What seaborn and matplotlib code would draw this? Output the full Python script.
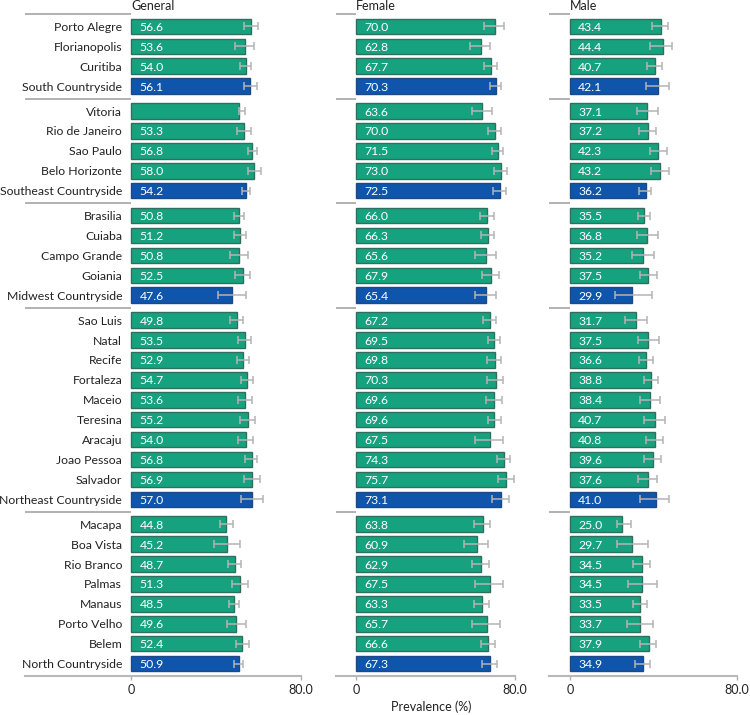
import numpy as np
import pandas as pd
import matplotlib
matplotlib.use("Agg")
import matplotlib.pyplot as plt
import seaborn as sns

# ---------------- data ----------------
cities = ["Porto Alegre", "Florianopolis", "Curitiba", "South Countryside",
          "Vitoria", "Rio de Janeiro", "Sao Paulo", "Belo Horizonte", "Southeast Countryside",
          "Brasilia", "Cuiaba", "Campo Grande", "Goiania", "Midwest Countryside",
          "Sao Luis", "Natal", "Recife", "Fortaleza", "Maceio", "Teresina", "Aracaju",
          "Joao Pessoa", "Salvador", "Northeast Countryside",
          "Macapa", "Boa Vista", "Rio Branco", "Palmas", "Manaus", "Porto Velho", "Belem",
          "North Countryside"]
regions = (["South"] * 4 + ["Southeast"] * 5 + ["Midwest"] * 5 +
           ["Northeast"] * 10 + ["North"] * 8)

general = [56.6, 53.6, 54.0, 56.1, 50.9, 53.3, 56.8, 58.0, 54.2,
           50.8, 51.2, 50.8, 52.5, 47.6,
           49.8, 53.5, 52.9, 54.7, 53.6, 55.2, 54.0, 56.8, 56.9, 57.0,
           44.8, 45.2, 48.7, 51.3, 48.5, 49.6, 52.4, 50.9]
general_lo = [53.2, 49.0, 51.5, 53.0, 50.9, 49.9, 54.9, 55.0, 52.2,
              48.6, 48.4, 46.6, 48.9, 41.0,
              46.7, 50.2, 49.9, 51.9, 50.2, 51.4, 50.1, 53.8, 53.3, 51.7,
              41.8, 39.2, 45.6, 47.5, 46.1, 45.2, 49.3, 48.4]
general_hi = [59.6, 57.7, 56.4, 59.2, 53.8, 56.4, 59.3, 61.0, 56.1,
              53.0, 54.2, 55.0, 56.0, 53.9,
              52.9, 56.6, 55.7, 57.5, 56.9, 58.5, 57.6, 59.5, 60.5, 61.9,
              47.8, 51.3, 51.7, 55.1, 50.9, 54.2, 55.4, 52.9]
general_hidden_labels = ["Vitoria"]

female = [70.0, 62.8, 67.7, 70.3, 63.6, 70.0, 71.5, 73.0, 72.5,
          66.0, 66.3, 65.6, 67.9, 65.4,
          67.2, 69.5, 69.8, 70.3, 69.6, 69.6, 67.5, 74.3, 75.7, 73.1,
          63.8, 60.9, 62.9, 67.5, 63.3, 65.7, 66.6, 67.3]
female_lo = [64.6, 57.6, 64.2, 67.3, 58.2, 66.5, 68.3, 69.6, 69.0,
             62.2, 63.0, 59.7, 63.2, 59.7,
             63.7, 66.2, 66.0, 66.1, 65.2, 66.3, 59.8, 71.0, 71.3, 68.6,
             59.6, 54.4, 58.2, 59.8, 59.5, 58.2, 62.9, 63.5]
female_hi = [74.4, 67.5, 70.9, 73.0, 68.6, 73.2, 74.0, 76.2, 75.7,
             69.4, 69.3, 70.6, 72.1, 70.6,
             70.2, 72.5, 73.2, 74.0, 73.6, 72.8, 73.9, 77.7, 79.5, 77.0,
             67.6, 66.6, 66.9, 73.9, 66.8, 72.6, 69.8, 70.8]

male = [43.4, 44.4, 40.7, 42.1, 37.1, 37.2, 42.3, 43.2, 36.2,
        35.5, 36.8, 35.2, 37.5, 29.9,
        31.7, 37.5, 36.6, 38.8, 38.4, 40.7, 40.8, 39.6, 37.6, 41.0,
        25.0, 29.7, 34.5, 34.5, 33.5, 33.7, 37.9, 34.9]
male_lo = [39.4, 38.4, 37.0, 36.2, 32.0, 33.2, 38.3, 38.6, 33.3,
           32.8, 32.0, 29.6, 33.7, 21.6,
           26.6, 32.7, 33.0, 35.3, 33.5, 35.5, 36.5, 35.3, 32.8, 33.5,
           22.6, 22.6, 30.4, 27.7, 30.0, 27.5, 33.8, 31.3]
male_hi = [47.0, 48.8, 44.0, 47.3, 42.0, 41.2, 46.3, 47.5, 39.0,
           38.4, 42.0, 40.4, 41.5, 39.1,
           36.8, 42.6, 39.8, 42.3, 43.3, 45.6, 44.5, 43.4, 41.7, 47.5,
           29.1, 37.6, 38.3, 41.5, 36.7, 39.7, 41.4, 38.4]

panel_titles = ["General", "Female", "Male"]
tick_values = [0, 80]
tick_labels = ["0", "80.0"]
axis_label = "Prevalence (%)"

# ---------------- style ----------------
GREEN = "#17a27f"
BLUE = "#0e55ab"
EDGE = {"City": "#2f6f5d", "Countryside": "#1d4a86"}
TEXT = "#222222"
FS = 8.5

sns.set_theme(style="white")
plt.rcParams["font.family"] = ["Lato", "DejaVu Sans"]

W, H = 750, 715
fig = plt.figure(figsize=(W / 100, H / 100), dpi=100)

# row positions with small gaps between regions
region_order = list(dict.fromkeys(regions))
group_idx = np.array([region_order.index(r) for r in regions])
pos = np.arange(len(cities)) + 0.25 * group_idx
kinds = ["Countryside" if c.endswith("Countryside") else "City" for c in cities]

seps = [pos[0] - 0.625]
for g in range(len(region_order) - 1):
    seps.append(pos[group_idx == g][-1] + 0.625)
y_bottom = pos[-1] + 0.625

top = 1 - 14 / H
bot = 1 - 676 / H

panels = [
    (panel_titles[0], general, general_lo, general_hi, 25, 301, -50),
    (panel_titles[1], female, female_lo, female_hi, 336, 515, -10),
    (panel_titles[2], male, male_lo, male_hi, 549, 737, -10),
]

for pi, (title, vals, lo, hi, lpx, rpx, xmin) in enumerate(panels):
    ax = fig.add_axes([lpx / W, bot, (rpx - lpx) / W, top - bot])
    vals = np.array(vals)
    lo = np.array(lo)
    hi = np.array(hi)
    df = pd.DataFrame({"pos": pos, "value": vals, "kind": kinds})
    sns.barplot(data=df, x="value", y="pos", hue="kind", orient="h",
                native_scale=True, dodge=False, width=0.78, errorbar=None,
                palette={"City": GREEN, "Countryside": BLUE}, legend=False,
                saturation=1, linewidth=1.0, ax=ax)
    for p in ax.patches:
        fc = p.get_facecolor()
        is_blue = fc[2] > fc[1]
        p.set_edgecolor(EDGE["Countryside"] if is_blue else EDGE["City"])
    ax.errorbar(vals, pos, xerr=[vals - lo, hi - vals], fmt="none",
                ecolor="#b4b4b4", elinewidth=1.1, capsize=3, capthick=1.1,
                zorder=5)

    for y, v, c in zip(pos, vals, cities):
        if not (pi == 0 and c in general_hidden_labels):
            ax.annotate(f"{v:.1f}", (0, y), xytext=(6, 0), textcoords="offset points",
                        ha="left", va="center_baseline", color="white", fontsize=FS + 0.3,
                        zorder=6)
        if pi == 0:
            ax.annotate(c, (0, y), xytext=(-6.5, 0), textcoords="offset points",
                        ha="right", va="center_baseline", color=TEXT, fontsize=FS + 0.3,
                        annotation_clip=False)

    for s in seps:
        ax.plot([xmin, 0], [s, s], color="#9c9c9c", lw=1.1, clip_on=False,
                solid_capstyle="butt")

    ax.annotate(title, (0, seps[0]), xytext=(0, 3), textcoords="offset points",
                ha="left", va="baseline", color=TEXT, fontsize=FS + 0.5,
                annotation_clip=False)

    ax.set_xlim(xmin, 80)
    ax.set_ylim(y_bottom, seps[0])
    ax.set_xticks(tick_values, tick_labels)
    ax.set_yticks([])
    ax.set_xlabel("")
    ax.set_ylabel("")
    for sp in ["left", "top", "right"]:
        ax.spines[sp].set_visible(False)
    ax.spines["bottom"].set_color("#b8b8b8")
    ax.spines["bottom"].set_linewidth(1.5)
    ax.tick_params(axis="x", length=3, width=1, color="#b0b0b0", pad=3,
                   labelsize=FS + 0.5, labelcolor=TEXT, bottom=True)
    ax.set_facecolor("none")

fig.text(431 / W, 1 - 707 / H, axis_label, ha="center", va="center",
         fontsize=FS + 0.5, color=TEXT)

fig.savefig("out.png", dpi=100)
